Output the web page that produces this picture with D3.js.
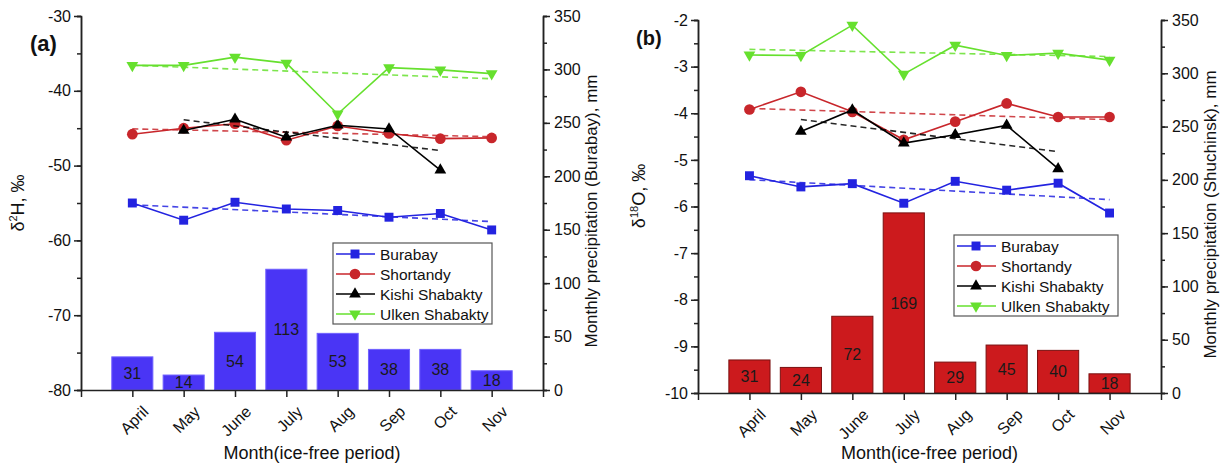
<!DOCTYPE html>
<html>
<head>
<meta charset="utf-8">
<script src="https://cdn.jsdelivr.net/npm/d3@7"></script>
<style>
  body { margin: 0; background: #fff; }
  svg { font-family: "Liberation Sans", Arial, sans-serif; }
  .axis path, .axis line { stroke: #222; stroke-width: 1.5; }
  .axis text { font-size: 16px; fill: #111; }
</style>
</head>
<body>
<div id="chart"></div>
<script>
// Data
var months = ["April", "May", "June", "July", "Aug", "Sep", "Oct", "Nov"];
var monthPos = [1, 2, 3, 4, 5, 6, 7, 8];

// panel (a): delta 2H, permil
var h2Burabay = [-55.0, -57.3, -54.9, -55.8, -56.0, -56.9, -56.4, -58.6];
var h2Shortandy = [-45.8, -45.0, -44.4, -46.6, -44.7, -45.7, -46.4, -46.3];
var h2Kishi = [null, -45.3, -43.8, -46.2, -44.6, -45.1, -50.6, null];
var h2Ulken = [-36.6, -36.6, -35.5, -36.3, -43.1, -36.9, -37.2, -37.7];
var precipBurabay = [31, 14, 54, 113, 53, 38, 38, 18];

// panel (b): delta 18O, permil
var o18Burabay = [-5.34, -5.58, -5.51, -5.93, -5.46, -5.65, -5.50, -6.14];
var o18Shortandy = [-3.92, -3.54, -3.97, -4.57, -4.18, -3.79, -4.08, -4.08];
var o18Kishi = [null, -4.39, -3.93, -4.64, -4.46, -4.26, -5.19, null];
var o18Ulken = [-2.75, -2.76, -2.11, -3.16, -2.54, -2.76, -2.71, -2.86];
var precipShuchinsk = [31, 24, 72, 169, 29, 45, 40, 18];

var seriesNames = ["Burabay", "Shortandy", "Kishi Shabakty", "Ulken Shabakty"];
var seriesColors = ["#2323e0", "#c8262b", "#000000", "#66e02e"];
var seriesSymbols = [d3.symbolSquare, d3.symbolCircle, d3.symbolTriangle, d3.symbolTriangle];
var symbolSizes = [80, 90, 60, 60];

var svg = d3.select("#chart").append("svg")
    .attr("width", 1228)
    .attr("height", 470);

// plain hyphen for negatives, like the original figure
var fmt = d => String(+d.toFixed(2));

// least squares fit over the points that exist
function trend(vals) {
    var pts = vals.map((v, i) => [monthPos[i], v]).filter(p => p[1] !== null);
    var mx = d3.mean(pts, p => p[0]), my = d3.mean(pts, p => p[1]);
    var sxy = d3.sum(pts, p => (p[0] - mx) * (p[1] - my));
    var sxx = d3.sum(pts, p => (p[0] - mx) * (p[0] - mx));
    var b = sxy / sxx;
    var x0 = pts[0][0], x1 = pts[pts.length - 1][0];
    return [[x0, my + b * (x0 - mx)], [x1, my + b * (x1 - mx)]];
}

function symbolPath(s) {
    return d3.symbol().type(seriesSymbols[s]).size(symbolSizes[s])();
}

function drawPanel(p) {
    var g = svg.append("g");
    var x = d3.scaleLinear().domain([0, 9]).range([p.left, p.right]);
    var yL = d3.scaleLinear().domain(p.yDomain).range([p.bottom, p.top]);
    var yR = d3.scaleLinear().domain([0, 350]).range([p.bottom, p.top]);

    // bars
    var bw = x(0.8) - x(0);
    g.selectAll(".bar").data(p.precip).enter().append("rect")
        .attr("x", (d, i) => x(monthPos[i]) - bw / 2)
        .attr("y", d => yR(d))
        .attr("width", bw)
        .attr("height", d => yR(0) - yR(d))
        .attr("fill", p.barColor)
        .attr("stroke", p.barStroke)
        .attr("stroke-width", 1);

    g.selectAll(".barlabel").data(p.precip).enter().append("text")
        .attr("x", (d, i) => x(monthPos[i]))
        .attr("y", d => (yR(d) + yR(0)) / 2)
        .attr("dy", "0.36em")
        .attr("text-anchor", "middle")
        .attr("font-size", "16px")
        .attr("fill", "#1a1a1a")
        .text(d => d);

    // axes: minor ticks first, then major
    g.append("g").attr("class", "axis")
        .attr("transform", `translate(${p.left},0)`)
        .call(d3.axisLeft(yL).tickValues(d3.range(p.yDomain[0], p.yDomain[1] + 1e-9, p.minorStep)).tickSize(4).tickFormat(""));
    g.append("g").attr("class", "axis")
        .attr("transform", `translate(${p.left},0)`)
        .call(d3.axisLeft(yL).tickValues(d3.range(p.yDomain[0], p.yDomain[1] + 1e-9, p.majorStep))
            .tickSize(7).tickSizeOuter(0).tickPadding(3).tickFormat(fmt));

    g.append("g").attr("class", "axis")
        .attr("transform", `translate(${p.right},0)`)
        .call(d3.axisRight(yR).tickValues(d3.range(0, 351, 25)).tickSize(4).tickFormat(""));
    g.append("g").attr("class", "axis")
        .attr("transform", `translate(${p.right},0)`)
        .call(d3.axisRight(yR).tickValues(d3.range(0, 351, 50)).tickSize(7).tickSizeOuter(0).tickPadding(4).tickFormat(fmt));

    var xAxis = g.append("g").attr("class", "axis")
        .attr("transform", `translate(0,${p.bottom})`)
        .call(d3.axisBottom(x).tickValues(d3.range(0, 10)).tickSize(7).tickSizeOuter(0)
            .tickFormat(d => (d >= 1 && d <= 8) ? months[d - 1] : ""));
    xAxis.selectAll("text")
        .attr("font-size", "15px")
        .attr("text-anchor", "end")
        .attr("transform", "translate(4,10) rotate(-45)")
        .attr("dy", "0.5em");

    // series lines, trends and markers
    p.series.forEach((vals, s) => {
        var pts = vals.map((v, i) => [monthPos[i], v]).filter(d => d[1] !== null);
        var line = d3.line().x(d => x(d[0])).y(d => yL(d[1]));
        g.append("path").datum(trend(vals))
            .attr("d", line)
            .attr("fill", "none")
            .attr("stroke", seriesColors[s])
            .attr("stroke-width", 1.6)
            .attr("stroke-dasharray", "6,4")
            .attr("opacity", 0.85);
        g.append("path").datum(pts)
            .attr("d", line)
            .attr("fill", "none")
            .attr("stroke", seriesColors[s])
            .attr("stroke-width", 1.6);
        g.selectAll(".m" + s).data(pts).enter().append("path")
            .attr("d", symbolPath(s))
            .attr("transform", d => `translate(${x(d[0])},${yL(d[1])})` + (s === 3 ? " rotate(180)" : ""))
            .attr("fill", seriesColors[s]);
    });

    // legend
    var lg = g.append("g").attr("transform", `translate(${p.legX},${p.legY})`);
    lg.append("rect")
        .attr("width", p.legW).attr("height", 81)
        .attr("fill", "#fff").attr("stroke", "#555").attr("stroke-width", 1.2);
    seriesNames.forEach((name, s) => {
        var yy = 11 + s * 20;
        lg.append("line").attr("x1", 3).attr("x2", 42).attr("y1", yy).attr("y2", yy)
            .attr("stroke", seriesColors[s]).attr("stroke-width", 1.6);
        lg.append("path")
            .attr("d", symbolPath(s))
            .attr("transform", `translate(22,${yy})` + (s === 3 ? " rotate(180)" : ""))
            .attr("fill", seriesColors[s]);
        lg.append("text").attr("x", 47).attr("y", yy).attr("dy", "0.36em")
            .attr("font-size", "15.5px").attr("fill", "#111").text(name);
    });

    // titles
    g.append("text")
        .attr("x", (p.left + p.right) / 2).attr("y", 459)
        .attr("text-anchor", "middle").attr("font-size", "18px").attr("fill", "#111")
        .text("Month(ice-free period)");

    var lt = g.append("text")
        .attr("transform", `translate(${p.leftTitleX},${p.leftTitleY}) rotate(-90)`)
        .attr("text-anchor", "middle").attr("font-size", "18px").attr("fill", "#111");
    lt.append("tspan").text("δ");
    lt.append("tspan").attr("font-size", "11px").attr("dy", "-0.6em").text(p.iso);
    lt.append("tspan").attr("dy", "0.38em").text(p.elem + ", ‰");

    g.append("text")
        .attr("transform", `translate(${p.rightTitleX},${(p.top + p.bottom) / 2 + 8}) rotate(-90)`)
        .attr("text-anchor", "middle").attr("font-size", "17px").attr("fill", "#111")
        .text(p.rightTitle);

    g.append("text")
        .attr("x", p.tagX).attr("y", p.tagY)
        .attr("font-size", p.tagSize).attr("font-weight", "bold").attr("fill", "#111")
        .text(p.tag);
}

drawPanel({
    left: 81, right: 543, top: 16, bottom: 390,
    yDomain: [-80, -30], majorStep: 10, minorStep: 5,
    precip: precipBurabay, barColor: "#4a35f5", barStroke: "#6f60ff",
    series: [h2Burabay, h2Shortandy, h2Kishi, h2Ulken],
    legX: 333, legY: 243, legW: 159,
    iso: "2", elem: "H", leftTitleX: 24, leftTitleY: 203,
    rightTitle: "Monthly precipitation (Burabay), mm", rightTitleX: 597,
    tag: "(a)", tagX: 30, tagY: 51, tagSize: "22px"
});

drawPanel({
    left: 698, right: 1161, top: 20, bottom: 393,
    yDomain: [-10, -2], majorStep: 1, minorStep: 0.5,
    precip: precipShuchinsk, barColor: "#cc1a1d", barStroke: "#7a1010",
    series: [o18Burabay, o18Shortandy, o18Kishi, o18Ulken],
    legX: 954, legY: 235, legW: 164,
    iso: "18", elem: "O", leftTitleX: 645, leftTitleY: 196,
    rightTitle: "Monthly precipitation (Shuchinsk), mm", rightTitleX: 1216,
    tag: "(b)", tagX: 636, tagY: 45, tagSize: "20px"
});
</script>
</body>
</html>
